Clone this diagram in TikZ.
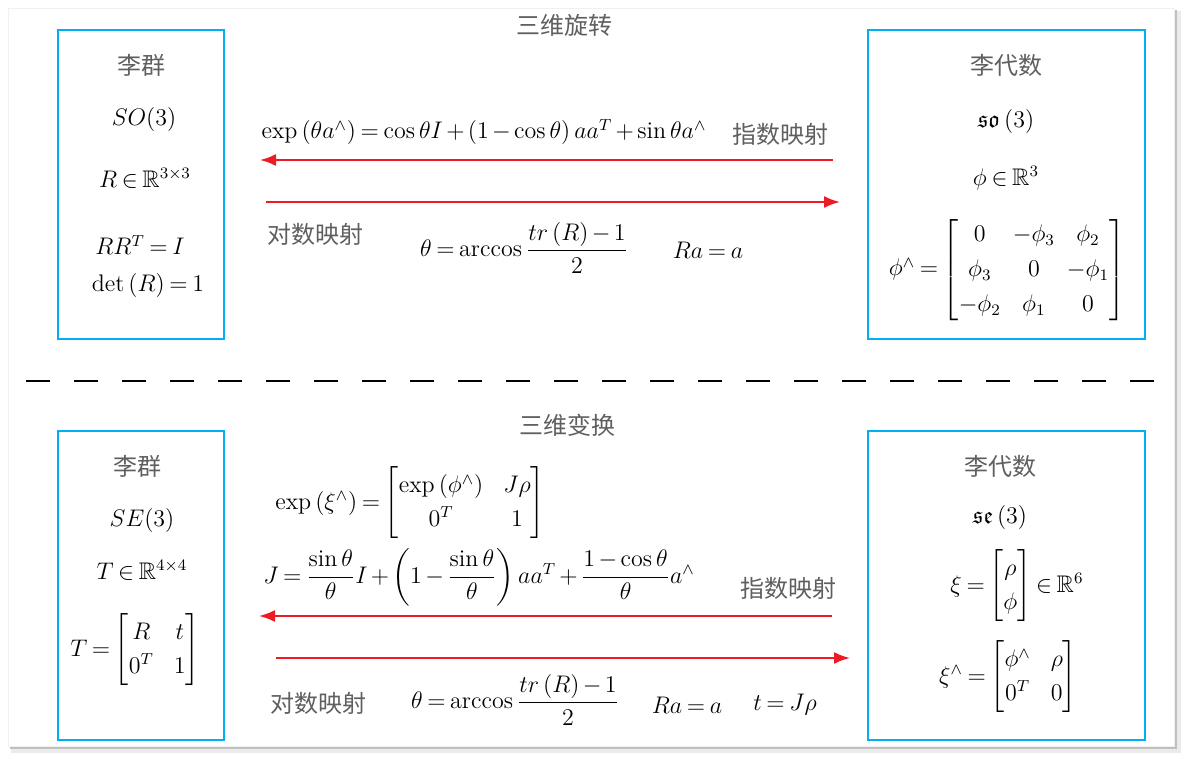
\documentclass[tikz,border=0pt]{standalone}
\usepackage{amsmath,amssymb}
\usepackage{fontspec}
\newfontfamily\cjk{Noto Sans CJK SC}
\usetikzlibrary{arrows.meta}

\definecolor{boxblue}{RGB}{0,176,240}
\definecolor{mapred}{RGB}{237,28,36}
\definecolor{zhgray}{RGB}{95,95,95}

\tikzset{
  liebox/.style={draw=boxblue, line width=1.3pt, inner sep=0pt},
  zh/.style={font=\cjk\fontsize{12}{14}\selectfont, text=zhgray},
  eq/.style={inner sep=1pt, font={\fontsize{12}{14}\selectfont\medmuskip=2.5mu\thickmuskip=3.5mu}},
  maparrow/.style={draw=mapred, line width=1pt, -{Latex[length=8pt,width=6pt]}}
}

\begin{document}
\begin{tikzpicture}[x=0.5pt,y=-0.5pt]
    \useasboundingbox (0,0) rectangle (1184,759);
    % panel with shadow
    \fill[white] (0,0) rectangle (1184,759);
    \fill[black!8] (11,11) rectangle (1181,753);
    \fill[black!25] (10,10) rectangle (1177,749);
    \filldraw[fill=white, draw=black!6] (8,8) rectangle (1174,746);

    % rotation part
    \node[zh] (rottitle) at (564,25) {三维旋转};
    \node[liebox, minimum width=83pt, minimum height=154.5pt] (so3grp) at (141,184.5) {};
    \node[zh] (so3grpname) at (141,65) {李群};
    \node[eq] (so3grpsym) at (144,120) {$SO(3)$};
    \node[eq] (so3grpset) at (145,178) {$R\in\mathbb{R}^{3\times3}$};
    \node[eq] (so3grpone) at (140,245) {$RR^{T}=I$};
    \node[eq] (so3grptwo) at (148,286) {$\det\left(R\right)=1$};

    \node[liebox, minimum width=138.5pt, minimum height=154.5pt] (so3alg) at (1006.5,184.5) {};
    \node[zh] (so3algname) at (1006,65) {李代数};
    \node[eq] (so3algsym) at (1006,122) {$\mathfrak{so}\left(3\right)$};
    \node[eq] (so3algset) at (1006,178) {$\phi\in\mathbb{R}^{3}$};
    \node[eq, inner sep=0pt] (so3alghat) at (1007,270) {\setlength{\arraycolsep}{3pt}\renewcommand{\arraystretch}{1.25}$\phi^{\wedge}=\begin{bmatrix}0&-\phi_3&\phi_2\\ \phi_3&0&-\phi_1\\ -\phi_2&\phi_1&0\end{bmatrix}$};

    \coordinate (rotexpA) at (833,160);
    \coordinate (rotexpB) at (260,160);
    \coordinate (rotlogA) at (266,202);
    \coordinate (rotlogB) at (840,202);
    \draw[maparrow] (rotexpA) -- (rotexpB);
    \draw[maparrow] (rotlogA) -- (rotlogB);
    \node[eq] (rotexp) at (484,132) {$\exp\left(\theta a^{\wedge}\right)=\cos\theta I+\left(1-\cos\theta\right)aa^{T}+\sin\theta a^{\wedge}$};
    \node[zh] (rotexpname) at (780,134) {指数映射};
    \node[zh] (rotlogname) at (315,234) {对数映射};
    \node[eq] (rotlog) at (524,248) {$\theta=\arccos\dfrac{tr\left(R\right)-1}{2}$};
    \node[eq] (rotaxis) at (708,250) {$Ra=a$};

    % separator
    \coordinate (sepL) at (26,381);
    \coordinate (sepR) at (1155,381);
    \draw[line width=1pt, dash pattern=on 12pt off 12pt] (sepL) -- (sepR);

    % transform part
    \node[zh] (tftitle) at (567,425) {三维变换};
    \node[liebox, minimum width=83pt, minimum height=154.5pt] (se3grp) at (141,585.5) {};
    \node[zh] (se3grpname) at (137,466) {李群};
    \node[eq] (se3grpsym) at (142,520) {$SE(3)$};
    \node[eq] (se3grpset) at (142,570) {$T\in\mathbb{R}^{4\times4}$};
    \node[eq] (se3grpmat) at (135,650) {\renewcommand{\arraystretch}{1.2}$T=\begin{bmatrix}R&t\\0^{T}&1\end{bmatrix}$};

    \node[liebox, minimum width=138.5pt, minimum height=154.5pt] (se3alg) at (1006.5,585.5) {};
    \node[zh] (se3algname) at (1000,466) {李代数};
    \node[eq] (se3algsym) at (1000,517) {$\mathfrak{se}\left(3\right)$};
    \node[eq, inner sep=0pt] (se3algset) at (1017,586) {\renewcommand{\arraystretch}{1.2}$\xi=\begin{bmatrix}\rho\\ \phi\end{bmatrix}\in\mathbb{R}^{6}$};
    \node[eq] (se3alghat) at (1008,677) {\renewcommand{\arraystretch}{1.2}$\xi^{\wedge}=\begin{bmatrix}\phi^{\wedge}&\rho\\0^{T}&0\end{bmatrix}$};

    \coordinate (tfexpA) at (832,616);
    \coordinate (tfexpB) at (259,616);
    \coordinate (tflogA) at (276,658);
    \coordinate (tflogB) at (850,658);
    \draw[maparrow] (tfexpA) -- (tfexpB);
    \draw[maparrow] (tflogA) -- (tflogB);
    \node[eq] (tfexp) at (410,503) {\renewcommand{\arraystretch}{1.2}$\exp\left(\xi^{\wedge}\right)=\begin{bmatrix}\exp\left(\phi^{\wedge}\right)&J\rho\\0^{T}&1\end{bmatrix}$};
    \node[eq] (tfjac) at (479,577) {$J=\dfrac{\sin\theta}{\theta}I+\left(1-\dfrac{\sin\theta}{\theta}\right)aa^{T}+\dfrac{1-\cos\theta}{\theta}a^{\wedge}$};
    \node[zh] (tfexpname) at (788,588) {指数映射};
    \node[zh] (tflogname) at (318,703) {对数映射};
    \node[eq] (tflog) at (515,700) {$\theta=\arccos\dfrac{tr\left(R\right)-1}{2}$};
    \node[eq] (tfaxis) at (687,705) {$Ra=a$};
    \node[eq] (tftrans) at (785,705) {$t=J\rho$};
\end{tikzpicture}
\end{document}
